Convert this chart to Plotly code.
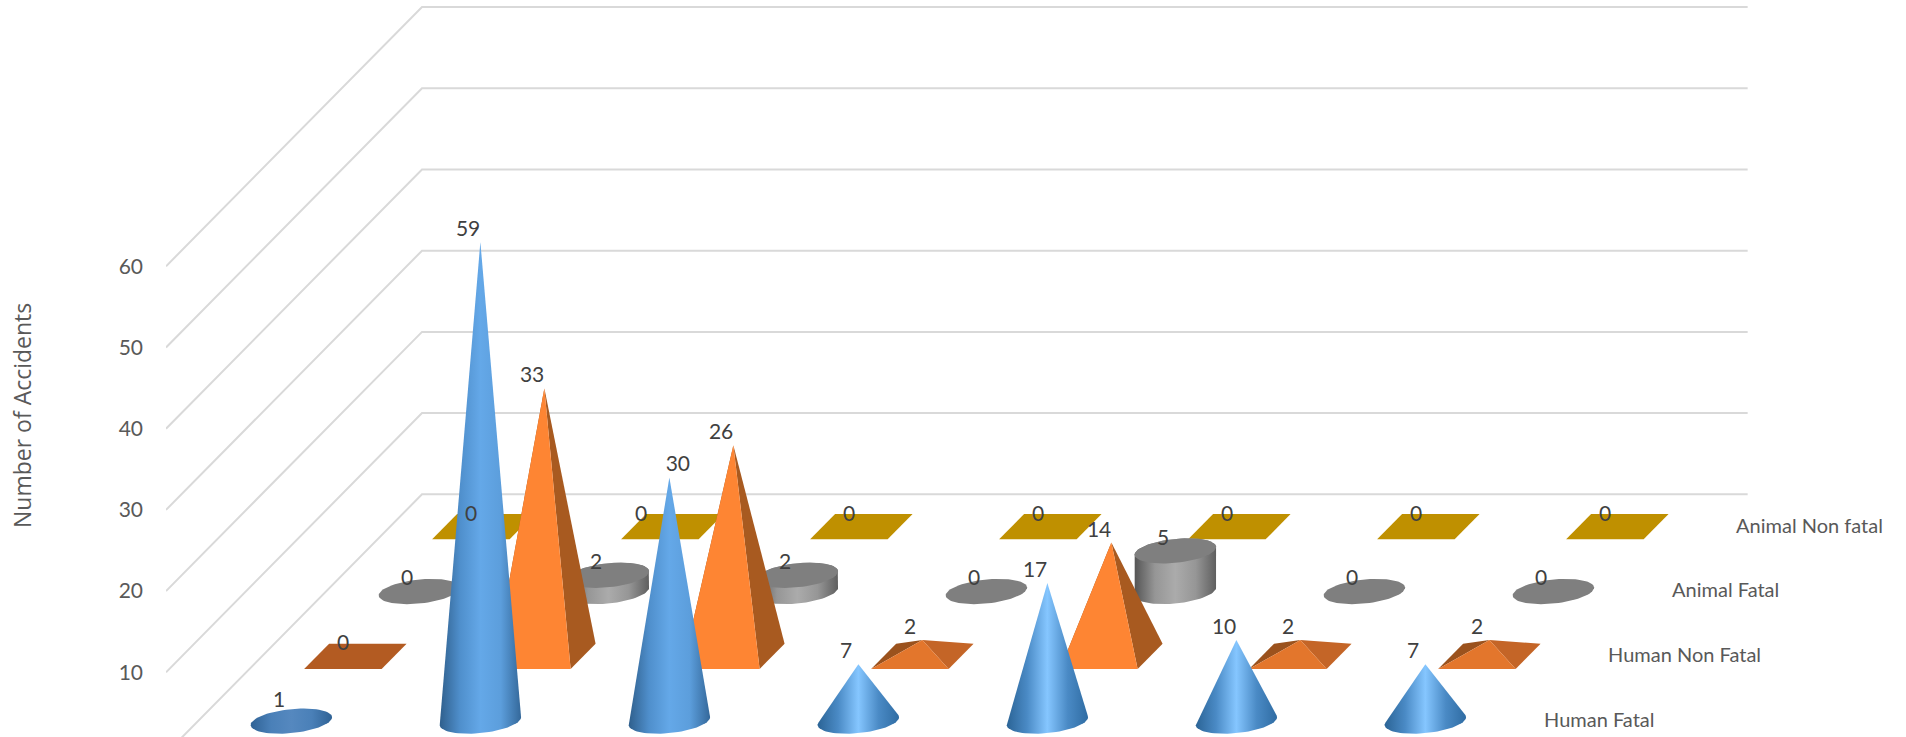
import numpy as np
import plotly.graph_objects as go

# ---- data ----
series_names = ["Human Fatal", "Human Non Fatal", "Animal Fatal", "Animal Non fatal"]
human_fatal = [1, 59, 30, 7, 17, 10, 7]
human_non_fatal = [0, 33, 26, 2, 14, 2, 2]
animal_fatal = [0, 2, 2, 0, 5, 0, 0]
animal_non_fatal = [0, 0, 0, 0, 0, 0, 0]
y_ticks = [10, 20, 30, 40, 50, 60]
grid_values = [0, 10, 20, 30, 40, 50, 60]
axis_title = "Number of Accidents"

# ---- oblique projection (depth expressed in series slots) ----
W, H = 1906, 737
PLOT_LEFT = 166
FLOOR_PX = 753.5
CAT_PX = 189.0
UNIT_PX = 8.12
DEPTH_PX = 64.0
SX = DEPTH_PX / CAT_PX
SY = DEPTH_PX * 1.0125 / UNIT_PX
N_CAT = len(human_fatal)
N_SER = len(series_names)
HALF_W = 0.205
HALF_D = 0.195
CAT_SHIFT = -0.006
WALL_OVERHANG = 0.02
FONT = "Lato"


def proj(c, d, v):
    return c + CAT_SHIFT + SX * d, v + SY * d


def ellipse(c, s, v, n=72):
    t = np.linspace(0, 2 * np.pi, n, endpoint=False)
    return proj(c + HALF_W * np.cos(t), s + 0.5 + HALF_D * np.sin(t), v)


def hull(xs, ys):
    # convex hull measured in pixels so that the shear stays faithful
    pts = sorted(set(zip(np.round(np.asarray(xs) * CAT_PX, 6), np.round(np.asarray(ys) * UNIT_PX, 6))))

    def half(points):
        out = []
        for p in points:
            while len(out) > 1 and ((out[-1][0] - out[-2][0]) * (p[1] - out[-2][1])
                                    - (out[-1][1] - out[-2][1]) * (p[0] - out[-2][0])) <= 0:
                out.pop()
            out.append(p)
        return out

    poly = half(pts)[:-1] + half(pts[::-1])[:-1]
    poly.append(poly[0])
    a = np.array(poly)
    return a[:, 0] / CAT_PX, a[:, 1] / UNIT_PX


fig = go.Figure()


def add_poly(xs, ys, color=None, ramp=None, name=""):
    xs, ys = list(xs), list(ys)
    if xs[0] != xs[-1] or ys[0] != ys[-1]:
        xs.append(xs[0])
        ys.append(ys[0])
    kw = dict(x=xs, y=ys, mode="lines", fill="toself", line=dict(width=0),
              hoverinfo="skip", showlegend=False, name=name)
    if ramp:
        stops = np.linspace(0, 1, len(ramp))
        kw["fillgradient"] = dict(type="horizontal", colorscale=[[float(p), col] for p, col in zip(stops, ramp)])
        kw["fillcolor"] = ramp[len(ramp) // 2]
    else:
        kw["fillcolor"] = color
    fig.add_trace(go.Scatter(**kw))


# gridlines: side wall + back wall
for v in grid_values:
    x0, y0 = proj(-0.5 - CAT_SHIFT, 0, v)
    x1, y1 = proj(-0.5 - CAT_SHIFT, N_SER, v)
    x2, y2 = proj(N_CAT - 0.5 + WALL_OVERHANG, N_SER, v)
    fig.add_trace(go.Scatter(x=[x0, x1, x2], y=[y0, y1, y2], mode="lines",
                             line=dict(color="#D9D9D9", width=2),
                             hoverinfo="skip", showlegend=False))


def corners(c, s, v=0):
    fl = proj(c - HALF_W, s + 0.5 - HALF_D, v)
    fr = proj(c + HALF_W, s + 0.5 - HALF_D, v)
    br = proj(c + HALF_W, s + 0.5 + HALF_D, v)
    bl = proj(c - HALF_W, s + 0.5 + HALF_D, v)
    return fl, fr, br, bl


# Animal Non fatal: boxes of zero height
for c, v in enumerate(animal_non_fatal):
    fl, fr, br, bl = corners(c, 3, v)
    add_poly(*zip(fl, fr, br, bl), color="#BF9000", name=series_names[3])

# Animal Fatal: cylinders
CYL_RAMP = ["#555555", "#969696", "#ABABAB", "#969696", "#5F5F5F"]
for c, v in enumerate(animal_fatal):
    bx, by = ellipse(c, 2, 0)
    if v > 0:
        tx, ty = ellipse(c, 2, v)
        hx, hy = hull(np.r_[bx, tx], np.r_[by, ty])
        add_poly(hx, hy, ramp=CYL_RAMP, name=series_names[2])
        add_poly(tx, ty, color="#7F7F7F", name=series_names[2])
    else:
        add_poly(bx, by, color="#7F7F7F", name=series_names[2])

# Human Non Fatal: pyramids
PYR_TONES = {"tall": ("#FE8533", "#A85A20"), "short": ("#E3762C", "#C46527")}
for c, v in enumerate(human_non_fatal):
    fl, fr, br, bl = corners(c, 1)
    if v == 0:
        add_poly(*zip(fl, fr, br, bl), color="#B35B22", name=series_names[1])
        continue
    apex = proj(c, 1.5, v)
    front, side = PYR_TONES["short" if v < 5 else "tall"]
    add_poly(*zip(fl, bl, apex), color="#9B521D", name=series_names[1])
    add_poly(*zip(fr, br, apex), color=side, name=series_names[1])
    add_poly(*zip(fl, fr, apex), color=front, name=series_names[1])

# Human Fatal: cones
CONE_TALL = ["#2F5F8C", "#4F8FCC", "#64A8E8", "#5C9EDC", "#34689A"]
CONE_MID = ["#2B6496", "#4A8AC5", "#85C6FF", "#4A8AC5", "#2F6CA3"]
CONE_FLAT = ["#2F6295", "#4A80B8", "#5588BF", "#4A80B8", "#2F6295"]
for c, v in enumerate(human_fatal):
    bx, by = ellipse(c, 0, 0)
    ax, ay = proj(c, 0.5, v)
    hx, hy = hull(np.r_[bx, ax], np.r_[by, ay])
    ramp = CONE_FLAT if v < 5 else (CONE_TALL if v >= 30 else CONE_MID)
    add_poly(hx, hy, ramp=ramp, name=series_names[0])

# value labels (placed from each mark's top, nudged as in the original)
LABEL_DX = -0.065
LABEL_DY = 1.4
NUDGE = {(0, 2): 0.11, (3, 1): -0.1}
lx, ly, lt = [], [], []
for s, vals in enumerate([human_fatal, human_non_fatal, animal_fatal, animal_non_fatal]):
    for c, v in enumerate(vals):
        x, y = proj(c, s + 0.5, v)
        lx.append(x + LABEL_DX + NUDGE.get((s, c), 0))
        ly.append(y + LABEL_DY)
        lt.append(str(v))
fig.add_trace(go.Scatter(x=lx, y=ly, text=lt, mode="text", textposition="middle center",
                         textfont=dict(family=FONT, size=21, color="#404040"),
                         hoverinfo="skip", showlegend=False, cliponaxis=False))

# depth-axis labels
sx, sy = proj(np.full(N_SER, N_CAT - 0.5 + 0.128), np.arange(N_SER) + 0.5, -0.12)
fig.add_trace(go.Scatter(x=sx, y=sy, text=series_names, mode="text", textposition="middle right",
                         textfont=dict(family=FONT, size=20, color="#595959"),
                         hoverinfo="skip", showlegend=False, cliponaxis=False))

fig.update_layout(
    width=W, height=H, margin=dict(l=0, r=0, t=0, b=0, autoexpand=False),
    paper_bgcolor="white", plot_bgcolor="white", showlegend=False,
    xaxis=dict(domain=[PLOT_LEFT / W, 1], range=[-0.5, -0.5 + (W - PLOT_LEFT) / CAT_PX], visible=False),
    yaxis=dict(range=[(FLOOR_PX - H) / UNIT_PX, FLOOR_PX / UNIT_PX], tickmode="array", tickvals=y_ticks,
               ticktext=[str(t) for t in y_ticks], showgrid=False, zeroline=False, showline=False,
               ticks="", ticklabelstandoff=22, automargin=False,
               tickfont=dict(family=FONT, size=21, color="#595959")),
    annotations=[dict(text=axis_title, xref="paper", yref="paper", x=22 / W, y=1 - 416 / H,
                      showarrow=False, textangle=-90, xanchor="center", yanchor="middle",
                      font=dict(family="Open Sans", size=23, color="#595959"))],
)

fig.write_html("out.html", config={"displayModeBar": False},
               post_script="document.body.style.margin='0';document.body.style.overflow='hidden';")
